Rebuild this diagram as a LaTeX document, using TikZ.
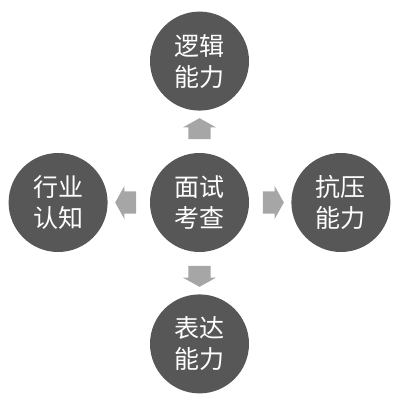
\documentclass[tikz,border=0pt]{standalone}
\usepackage{fontspec}
\newfontfamily\cjkfont{Noto Sans CJK SC}
\usetikzlibrary{shapes.arrows,positioning,calc}
\definecolor{discgray}{HTML}{575757}
\definecolor{arrowgray}{HTML}{A6A6A6}

\begin{document}
\begin{tikzpicture}[x=1pt,y=1pt,
    disc/.style={circle,fill=discgray,minimum size=99pt,inner sep=0pt,text=white,
      font=\cjkfont\fontsize{25}{31}\selectfont,align=center},
    blockarrow/.style={single arrow,fill=arrowgray,minimum height=21pt,
      single arrow head extend=5.5pt,single arrow tip angle=122,
      inner xsep=0pt,inner ysep=11pt}]
    \useasboundingbox (0,0) rectangle (409,405);
    % circles
    \node[disc] (exam) at (199.5,202.5) {面试\\考查};
    \node[disc,above=42pt of exam] (logic) {逻辑\\能力};
    \node[disc,below=42pt of exam] (speech) {表达\\能力};
    \node[disc,left=42pt of exam] (trade) {行业\\认知};
    \node[disc,right=42pt of exam] (stress) {抗压\\能力};
    % arrows
    \node[blockarrow,rotate=90] (toLogic) at ($(exam)!0.5!(logic)$) {};
    \node[blockarrow,rotate=-90] (toSpeech) at ($(exam)!0.5!(speech)$) {};
    \node[blockarrow,rotate=180] (toTrade) at ($(exam)!0.5!(trade)$) {};
    \node[blockarrow] (toStress) at ($(exam)!0.5!(stress)$) {};
\end{tikzpicture}
\end{document}
